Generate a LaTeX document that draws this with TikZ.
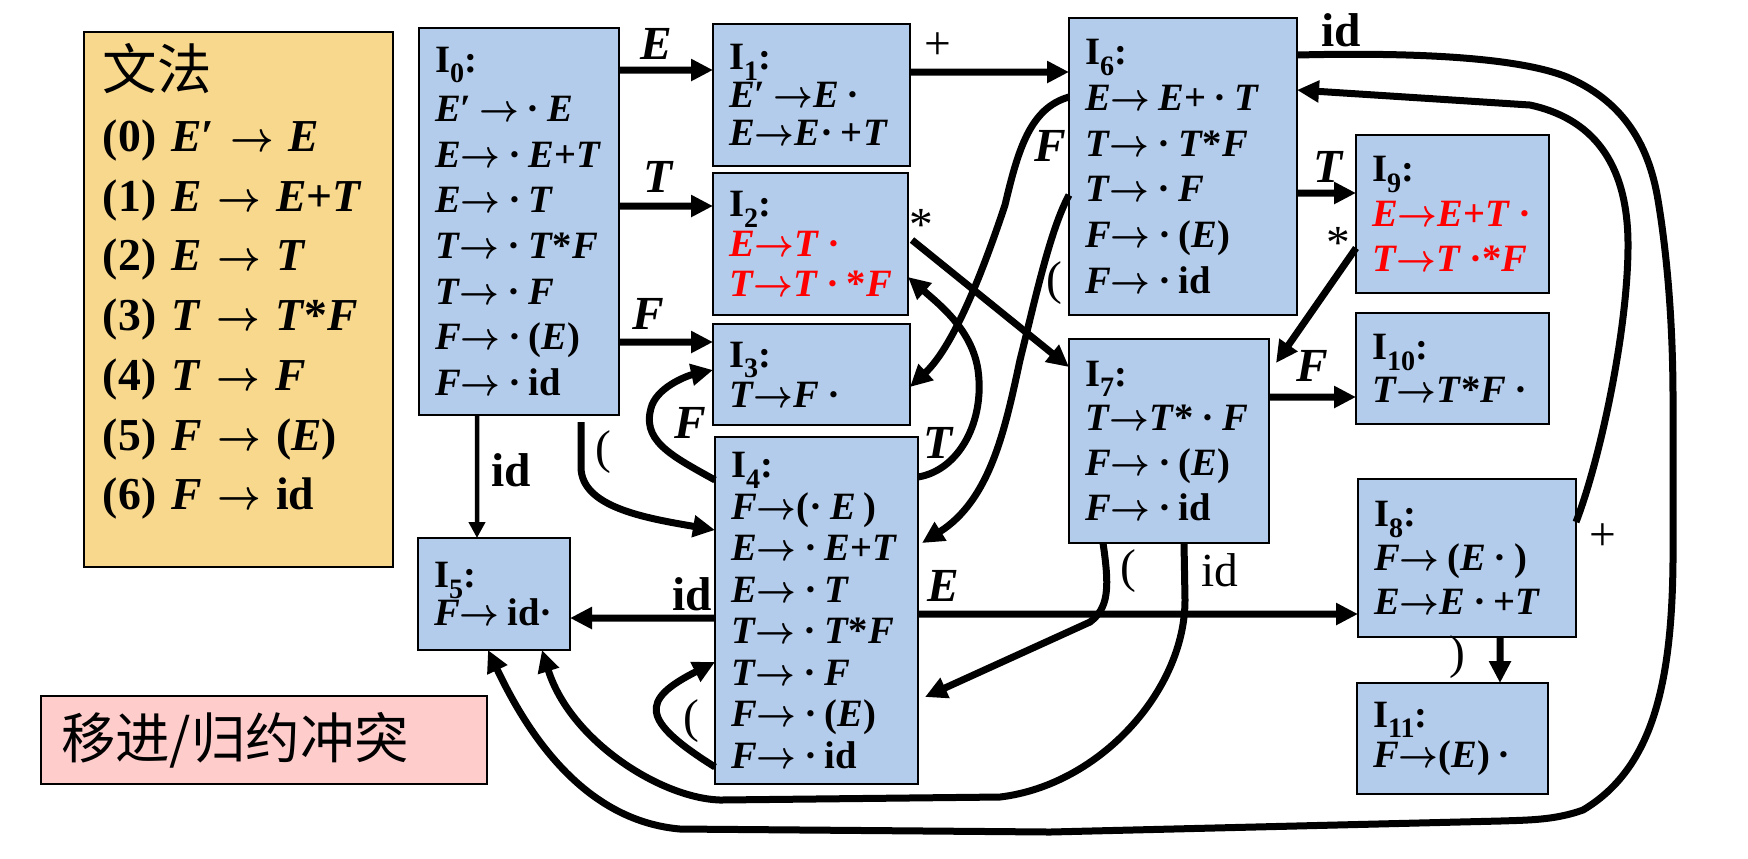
\documentclass[tikz,border=0pt]{standalone}
\usepackage{fontspec}
\setmainfont{Liberation Serif}
\newfontfamily\cjk{Noto Sans CJK SC}
\usepackage{xcolor}
\usetikzlibrary{arrows.meta}
\definecolor{setblue}{RGB}{180,204,236}
\definecolor{gramyellow}{RGB}{248,216,140}
\definecolor{clashpink}{RGB}{255,204,204}
\newcommand{\iE}{\textit{E}}
\newcommand{\iT}{\textit{T}}
\newcommand{\iF}{\textit{F}}
\newcommand{\ra}{\mbox{\scalebox{0.9}[1]{\boldmath$\rightarrow$}}}
\newcommand{\hs}{\kern0.2em\relax}
\newcommand{\St}[1]{I\raisebox{-0.6ex}{\fontsize{8pt}{8pt}\selectfont #1}:}

\begin{document}
\begin{tikzpicture}[x=0.1mm,y=0.1mm]
 	\tikzstyle{itemset}=[draw=black, line width=0.6pt, fill=setblue, anchor=north west, inner xsep=1.6mm, inner ysep=0pt, outer sep=0pt, align=left]
 	\tikzstyle{trans}=[line width=0.7mm, -{Triangle[length=2.2mm,width=2.1mm]}]
 	\tikzstyle{lbl}=[inner sep=0pt, font=\bfseries\itshape\fontsize{13.5pt}{13.5pt}\selectfont]
 	\tikzstyle{sym}=[inner sep=0pt, font=\fontsize{13.5pt}{13.5pt}\selectfont]
 	\tikzstyle{bsym}=[inner sep=0pt, font=\bfseries\fontsize{13.5pt}{13.5pt}\selectfont]
 	\useasboundingbox (0,0) rectangle (1748,-858);
 	\node[draw=black, line width=0.6pt, fill=gramyellow, anchor=north west, minimum width=30.9mm, minimum height=51.3mm, text width=27.1mm, inner xsep=1.9mm, outer sep=0pt, align=left, font=\bfseries\fontsize{13pt}{17pt}\selectfont] (gram) at (84,-32) {{\cjk\mdseries\fontsize{15.5pt}{15.5pt}\selectfont 文法}\\[0.5pt] (0)~\iE′~\ra~\iE\\ (1)~\iE~\ra~\iE+\iT\\ (2)~\iE~\ra~\iT\\ (3)~\iT~\ra~\iT*\iF\\ (4)~\iT~\ra~\iF\\ (5)~\iF~\ra~(\iE)\\ (6)~\iF~\ra~id\\[-4pt]\mbox{}};
 	\node[draw=black, line width=0.6pt, fill=clashpink, anchor=north west, minimum width=44.6mm, minimum height=8.8mm, text width=40.6mm, inner xsep=2mm, outer sep=0pt, align=left, font=\cjk\fontsize{15.5pt}{15.5pt}\selectfont] (clash) at (41,-696) {移进/归约冲突};
 	\node[itemset, minimum width=20mm, minimum height=38.7mm, text width=16.8mm, font=\bfseries\fontsize{11pt}{13pt}\selectfont] (I0) at (419,-28) {\St{0}\\[1pt] \iE′\hs\ra\hs·\hs\iE\\ \iE\ra\hs·\hs\iE+\iT\\ \iE\ra\hs·\hs\iT\\ \iT\ra\hs·\hs\iT*\iF\\ \iT\ra\hs·\hs\iF\\ \iF\ra\hs·\hs(\iE)\\ \iF\ra\hs·\hs id};
 	\node[itemset, minimum width=19.7mm, minimum height=14.2mm, text width=16.5mm, font=\bfseries\fontsize{11pt}{10.8pt}\selectfont] (I1) at (713,-24) {\St{1}\\ \iE′\hs\ra\iE\hs·\\ \iE\ra\iE·\hs+\iT};
 	\node[itemset, minimum width=19.5mm, minimum height=14.2mm, text width=16.3mm, font=\bfseries\fontsize{11pt}{11.4pt}\selectfont] (I2) at (713,-173) {\St{2}\\ \textcolor{red}{\iE\ra\iT\hs·}\\ \textcolor{red}{\iT\ra\iT\hs·\hs*\iF}};
 	\node[itemset, minimum width=19.7mm, minimum height=10.1mm, text width=16.5mm, font=\bfseries\fontsize{11pt}{11.4pt}\selectfont] (I3) at (713,-324) {\St{3}\\ \iT\ra\iF\hs·};
 	\node[itemset, minimum width=20.3mm, minimum height=34.7mm, text width=17.1mm, font=\bfseries\fontsize{11pt}{11.8pt}\selectfont] (I4) at (715,-437) {\St{4}\\ \iF\ra(·\hs\iE\hs)\\ \iE\ra\hs·\hs\iE+\iT\\ \iE\ra\hs·\hs\iT\\ \iT\ra\hs·\hs\iT*\iF\\ \iT\ra\hs·\hs\iF\\ \iF\ra\hs·\hs(\iE)\\ \iF\ra\hs·\hs id};
 	\node[itemset, minimum width=15.2mm, minimum height=11.2mm, text width=12mm, font=\bfseries\fontsize{11pt}{10.8pt}\selectfont] (I5) at (418,-538) {\St{5}\\ \iF\ra\hs id·};
 	\node[itemset, minimum width=22.8mm, minimum height=29.7mm, text width=19.6mm, font=\bfseries\fontsize{11pt}{13pt}\selectfont] (I6) at (1069,-18) {\St{6}\\ \iE\ra\hs\iE+\hs·\hs\iT\\ \iT\ra\hs·\hs\iT*\iF\\ \iT\ra\hs·\hs\iF\\ \iF\ra\hs·\hs(\iE)\\ \iF\ra\hs·\hs id};
 	\node[itemset, minimum width=20mm, minimum height=20.4mm, text width=16.8mm, font=\bfseries\fontsize{11pt}{12.8pt}\selectfont] (I7) at (1069,-339) {\St{7}\\ \iT\ra\iT*\hs·\hs\iF\\ \iF\ra\hs·\hs(\iE)\\ \iF\ra\hs·\hs id};
 	\node[itemset, minimum width=21.8mm, minimum height=15.8mm, text width=18.6mm, font=\bfseries\fontsize{11pt}{12.5pt}\selectfont] (I8) at (1358,-479) {\St{8}\\ \iF\ra\hs(\iE\hs·\hs)\\ \iE\ra\iE\hs·\hs+\iT};
 	\node[itemset, minimum width=19.3mm, minimum height=15.8mm, text width=16.1mm, font=\bfseries\fontsize{11pt}{12.8pt}\selectfont] (I9) at (1356,-135) {\St{9}\\ \textcolor{red}{\iE\ra\iE+\iT\hs·}\\ \textcolor{red}{\iT\ra\iT\hs·*\iF}};
 	\node[itemset, minimum width=19.3mm, minimum height=11.1mm, text width=16.1mm, font=\bfseries\fontsize{11pt}{12.2pt}\selectfont] (I10) at (1356,-313) {\St{10}\\ \iT\ra\iT*\iF\hs·};
 	\node[itemset, minimum width=19.1mm, minimum height=11.1mm, text width=15.9mm, font=\bfseries\fontsize{11pt}{11.4pt}\selectfont] (I11) at (1357,-683) {\St{11}\\ \iF\ra(\iE)\hs·};
 	\draw [trans] ([yshift=-4.2mm]I0.north east) -- ([yshift=-4.6mm]I1.north west);
 	\node[lbl] (lE0) at (656,-44) {E};
 	\draw [trans] ([yshift=-17.8mm]I0.north east) -- ([yshift=-3.3mm]I2.north west);
 	\node[lbl] (lT0) at (658,-177) {T};
 	\draw [trans] ([yshift=-31.4mm]I0.north east) -- ([yshift=-1.8mm]I3.north west);
 	\node[lbl] (lF0) at (648,-314) {F};
 	\draw [line width=0.45mm, -{Triangle[length=1.6mm,width=1.6mm]}] ([xshift=5.8mm]I0.south west) -- ([xshift=5.9mm]I5.north west);
 	\node[bsym] (lid0) at (511,-470) {id};
 	\draw [trans] ([xshift=16.2mm,yshift=-0.7mm]I0.south west) -- ++(0,-45) .. controls +(0,-40) and +(-70,12) .. ([yshift=-9.3mm]I4.north west);
 	\node[sym] (lpar0) at (603,-452) {(};
 	\draw [trans] ([yshift=-4.8mm]I1.north east) -- ([yshift=-5.4mm]I6.north west);
 	\node[sym] (lplus1) at (938,-46) {+};
 	\draw [trans] ([xshift=0.4mm,yshift=-6.7mm]I2.north east) -- ([yshift=-2.8mm]I7.north west);
 	\node[sym] (lstar2) at (921,-225) {*};
 	\draw [trans] ([yshift=-4mm]I4.north east) .. controls (960,-470) and (985,-420) .. (978,-370) .. controls (972,-330) and (940,-305) .. ([yshift=-10.4mm]I2.north east);
 	\node[lbl] (lT4) at (938,-443) {T};
 	\draw [trans] ([yshift=-7.9mm]I6.north west) .. controls (1030,-108) and (1018,-150) .. (1005,-205) .. controls (985,-265) and (955,-345) .. ([yshift=-6.3mm]I3.north east);
 	\node[lbl] (lF6) at (1050,-146) {F};
 	\draw [trans] ([yshift=-17.7mm]I6.north west) .. controls (1050,-230) and (1035,-300) .. (1020,-360) .. controls (1005,-430) and (990,-500) .. ([xshift=0.4mm,yshift=-10.6mm]I4.north east);
 	\node[sym] (lpar6) at (1054,-283) {(};
 	\draw [trans] ([yshift=-17.5mm]I6.north east) -- ([yshift=-5.8mm]I9.north west);
 	\node[lbl] (lT6) at (1328,-167) {T};
 	\draw [trans] ([yshift=-11.3mm]I9.north west) -- ([xshift=0.7mm,yshift=-2.4mm]I7.north east);
 	\node[sym] (lstar9) at (1338,-243) {*};
 	\draw [trans] ([yshift=-5.8mm]I7.north east) -- ([yshift=-8.4mm]I10.north west);
 	\node[lbl] (lF7) at (1312,-366) {F};
 	\draw [trans] ([xshift=3.4mm]I7.south west) .. controls (1110,-590) and (1108,-608) .. (1090,-622) -- ([xshift=0.7mm,yshift=-26mm]I4.north east);
 	\node[sym] (lpar7) at (1128,-571) {(};
 	\draw [trans] ([xshift=11.5mm]I7.south west) -- (1185,-600) .. controls (1185,-690) and (1100,-785) .. (1000,-797) -- (720,-800) .. controls (660,-798) and (570,-740) .. ([xshift=12.4mm]I5.south west);
 	\node[sym] (lid7) at (1220,-570) {id};
 	\draw [trans] ([yshift=-3.7mm]I6.north east) .. controls (1420,-52) and (1520,-58) .. (1567,-77) .. controls (1620,-100) and (1648,-140) .. (1658,-200) .. controls (1668,-260) and (1673,-330) .. (1673,-400) -- (1673,-560) .. controls (1672,-690) and (1650,-770) .. (1583,-810) .. controls (1555,-820) and (1530,-820) .. (1500,-821) -- (1050,-832) -- (680,-829) .. controls (600,-822) and (540,-760) .. ([xshift=7mm]I5.south west);
 	\node[bsym] (lid6) at (1341,-30) {id};
 	\draw [trans] ([yshift=-4.3mm]I8.north east) .. controls (1600,-460) and (1628,-330) .. (1628,-245) .. controls (1628,-160) and (1590,-118) .. (1530,-105) -- ([yshift=-7.2mm]I6.north east);
 	\node[sym] (lplus8) at (1603,-537) {+};
 	\draw [trans] ([yshift=-4.3mm]I4.north west) .. controls (670,-455) and (640,-440) .. (652,-405) .. controls (660,-385) and (690,-375) .. ([yshift=-4.6mm]I3.north west);
 	\node[lbl] (lF4) at (690,-423) {F};
 	\draw [trans] ([yshift=-33mm]I4.north west) .. controls (640,-720) and (640,-700) .. ([yshift=-22.5mm]I4.north west);
 	\node[sym] (lpar4) at (691,-721) {(};
 	\draw [trans] ([yshift=-18.1mm]I4.north west) -- ([yshift=-8mm]I5.north east);
 	\node[bsym] (lid4) at (692,-594) {id};
 	\draw [trans] ([yshift=-17.7mm]I4.north east) -- ([yshift=-13.5mm]I8.north west);
 	\node[lbl] (lE4) at (943,-586) {E};
 	\draw [trans] ([xshift=14.2mm]I8.south west) -- ([xshift=14.3mm]I11.north west);
 	\node[sym] (lrp8) at (1457,-657) {)};
\end{tikzpicture}
\end{document}
